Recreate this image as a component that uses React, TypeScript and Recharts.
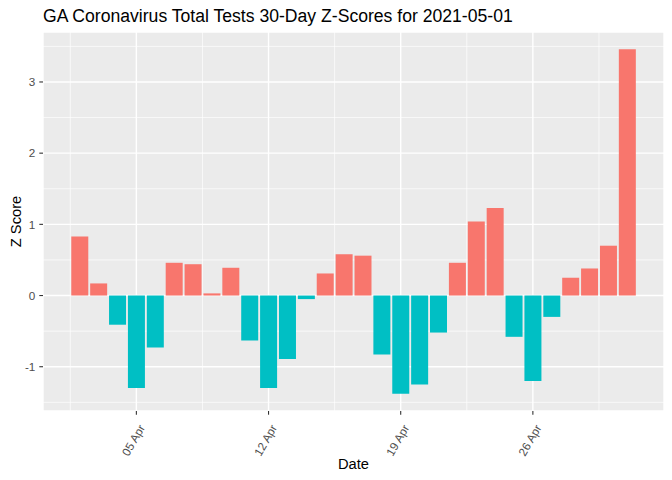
import { BarChart, Bar, Cell, XAxis, YAxis, CartesianGrid } from "recharts";

// one z-score per day, 2021-04-02 .. 2021-05-01
const dates = [
  "2021-04-02", "2021-04-03", "2021-04-04", "2021-04-05", "2021-04-06",
  "2021-04-07", "2021-04-08", "2021-04-09", "2021-04-10", "2021-04-11",
  "2021-04-12", "2021-04-13", "2021-04-14", "2021-04-15", "2021-04-16",
  "2021-04-17", "2021-04-18", "2021-04-19", "2021-04-20", "2021-04-21",
  "2021-04-22", "2021-04-23", "2021-04-24", "2021-04-25", "2021-04-26",
  "2021-04-27", "2021-04-28", "2021-04-29", "2021-04-30", "2021-05-01",
];
const zScores = [
  0.83, 0.17, -0.41, -1.3, -0.73,
  0.46, 0.44, 0.03, 0.39, -0.63,
  -1.3, -0.89, -0.05, 0.31, 0.58,
  0.56, -0.83, -1.38, -1.25, -0.52,
  0.46, 1.04, 1.23, -0.58, -1.2,
  -0.3, 0.25, 0.38, 0.7, 3.46,
];
const xTickDates = ["2021-04-05", "2021-04-12", "2021-04-19", "2021-04-26"];
const xTickLabels = ["05 Apr", "12 Apr", "19 Apr", "26 Apr"];
const xMinorDates = ["2021-04-01", "2021-04-08", "2021-04-15", "2021-04-22", "2021-04-29"];
const yTicks = [-1, 0, 1, 2, 3];
const yMinor = [-1.5, -0.5, 0.5, 1.5, 2.5, 3.5];

const DAY = 86400000;
const dayNum = (d: string) => (Date.parse(d) - Date.parse("2021-03-31")) / DAY;

const data = dates.map((d, i) => ({ day: dayNum(d), z: zScores[i] }));

// ggplot-style 5% expansion
const xLo = dayNum(dates[0]) - 0.45;
const xHi = dayNum(dates[dates.length - 1]) + 0.45;
const xPad = (xHi - xLo) * 0.05;
const xDomain = [xLo - xPad, xHi + xPad];
const yLo = Math.min(0, ...zScores);
const yHi = Math.max(0, ...zScores);
const yPad = (yHi - yLo) * 0.05;
const yDomain = [yLo - yPad, yHi + yPad];

const xTicks = xTickDates.map(dayNum);
const xMinor = xMinorDates.map((d) => dayNum(d) + 0.5);

const POS = "#F8766D";
const NEG = "#00BFC4";
const FONT = '"Liberation Sans", Arial, sans-serif';

function XTick(props: any) {
  const { x, y, payload } = props;
  const idx = xTicks.indexOf(payload.value);
  return (
    <text
      transform={`translate(${x + 9},${y + 13}) rotate(-60)`}
      textAnchor="end"
      fontSize={11.7}
      fill="#4D4D4D"
      fontFamily={FONT}
    >
      {idx >= 0 ? xTickLabels[idx] : ""}
    </text>
  );
}

function scaleOf(axis: any, v: number, lo: number, hi: number, start: number, size: number, invert: boolean) {
  const s = axis && axis.scale;
  if (typeof s === "function") return s(v);
  const t = (v - lo) / (hi - lo);
  return invert ? start + (1 - t) * size : start + t * size;
}

export default function App() {
  return (
    <div style={{ position: "absolute", left: 0, top: 0, width: 672, height: 480, background: "#fff", fontFamily: FONT }}>
      <BarChart width={672} height={480} data={data} margin={{ top: 32, right: 8, bottom: 0, left: 0 }}>
        <CartesianGrid fill="#EBEBEB" stroke="#FFFFFF" strokeWidth={1.4} />
        <CartesianGrid
          stroke="#FFFFFF"
          strokeWidth={0.7}
          horizontalCoordinatesGenerator={({ yAxis, offset }: any) =>
            yMinor.map((v) => scaleOf(yAxis, v, yDomain[0], yDomain[1], offset.top, offset.height, true))
          }
          verticalCoordinatesGenerator={({ xAxis, offset }: any) =>
            xMinor.map((v) => scaleOf(xAxis, v, xDomain[0], xDomain[1], offset.left, offset.width, false))
          }
        />
        <XAxis
          dataKey="day"
          type="number"
          domain={xDomain}
          ticks={xTicks}
          allowDataOverflow
          height={69}
          axisLine={false}
          tickSize={3.7}
          tickMargin={0}
          tickLine={{ stroke: "#333333", strokeWidth: 1.1 }}
          tick={<XTick />}
          interval={0}
        />
        <YAxis
          type="number"
          domain={yDomain}
          ticks={yTicks}
          allowDataOverflow
          width={43}
          axisLine={false}
          tickSize={3.7}
          tickMargin={4}
          tickLine={{ stroke: "#333333", strokeWidth: 1.1 }}
          tick={{ fill: "#4D4D4D", fontSize: 11.7, fontFamily: FONT }}
          interval={0}
        />
        <Bar dataKey="z" barSize={17} isAnimationActive={false}>
          {data.map((d, i) => (
            <Cell key={i} fill={d.z > 0 ? POS : NEG} />
          ))}
        </Bar>
      </BarChart>
      <svg
        width={672}
        height={480}
        style={{ position: "absolute", left: 0, top: 0, pointerEvents: "none" }}
      >
        <text x={43} y={21.5} fontSize={17.6} fill="#000" fontFamily={FONT}>
          GA Coronavirus Total Tests 30-Day Z-Scores for 2021-05-01
        </text>
        <text x={353.5} y={469} fontSize={14.7} fill="#000" textAnchor="middle" fontFamily={FONT}>
          Date
        </text>
        <text
          transform="translate(20.5,221.5) rotate(-90)"
          fontSize={14.7}
          fill="#000"
          textAnchor="middle"
          fontFamily={FONT}
        >
          Z Score
        </text>
      </svg>
    </div>
  );
}
